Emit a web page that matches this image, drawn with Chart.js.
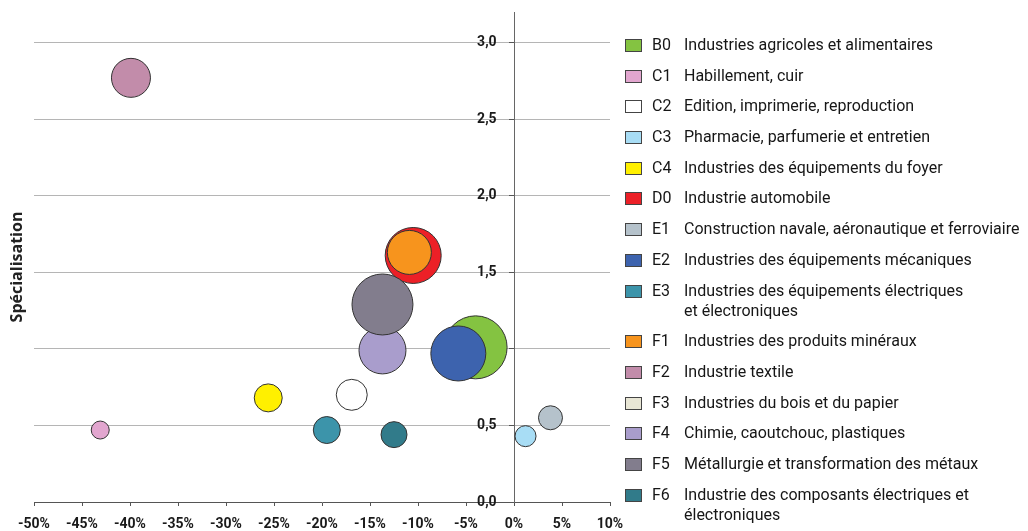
<!DOCTYPE html>
<html lang="fr">
<head>
<meta charset="utf-8">
<title>Spécialisation et évolution par secteur</title>
<script src="https://cdn.jsdelivr.net/npm/chart.js@4.4.1/dist/chart.umd.min.js"></script>
<style>
  body { margin: 0; background: #fff; }
  #wrap { position: relative; width: 1028px; height: 531px; }
  #legend { position: absolute; left: 625px; top: 35px; font: 16px Roboto, sans-serif; color: #161616; }
  .item { display: flex; align-items: flex-start; line-height: 20px; margin-bottom: 10.7px; }
  .swatch { flex: none; width: 17px; height: 13px; box-sizing: border-box; border: 1px solid #444; margin: 4px 10px 0 0; }
  .code { flex: none; width: 32px; }
  .label { white-space: pre-line; }
</style>
</head>
<body>
<div id="wrap">
  <canvas id="chart"></canvas>
  <div id="legend"></div>
</div>
<script>
// secteurs : code, libellé, couleur
const codes = ["B0", "C1", "C2", "C3", "C4", "D0", "E1", "E2", "E3", "F1", "F2", "F3", "F4", "F5", "F6"];
const labels = [
  "Industries agricoles et alimentaires",
  "Habillement, cuir",
  "Edition, imprimerie, reproduction",
  "Pharmacie, parfumerie et entretien",
  "Industries des équipements du foyer",
  "Industrie automobile",
  "Construction navale, aéronautique et ferroviaire",
  "Industries des équipements mécaniques",
  "Industries des équipements électriques\net électroniques",
  "Industries des produits minéraux",
  "Industrie textile",
  "Industries du bois et du papier",
  "Chimie, caoutchouc, plastiques",
  "Métallurgie et transformation des métaux",
  "Industrie des composants électriques et\nélectroniques"
];
const colors = ["#84c341", "#e2a6cf", "#ffffff", "#a8ddf5", "#fff000", "#ec2027", "#b5c2cb",
  "#3d63ae", "#3c94aa", "#f7941d", "#c28caa", "#e8e6d5", "#a99dcc", "#827d8d", "#317b8a"];

// évolution (%), spécialisation, taille de bulle (F3 non représenté)
const evolution = [-4.0, -43.1, -16.9, 1.2, -25.6, -10.5, 3.8, -5.8, -19.5, -10.9, -39.9, null, -13.7, -13.7, -12.5];
const specialisation = [1.01, 0.47, 0.70, 0.43, 0.68, 1.61, 0.55, 0.97, 0.47, 1.63, 2.77, null, 0.99, 1.29, 0.44];
const taille = [31.5, 9, 15.5, 10.5, 14, 28, 12, 27.5, 13.5, 22, 19.5, null, 23.5, 30.5, 13];

const xTicks = [-50, -45, -40, -35, -30, -25, -20, -15, -10, -5, 0, 5, 10];
const yTicks = [0, 0.5, 1, 1.5, 2, 2.5, 3];

Chart.defaults.font.family = "Roboto";
Chart.defaults.color = "#1a1a1a";

// légende HTML
const legend = document.getElementById("legend");
codes.forEach((code, i) => {
  const item = document.createElement("div");
  item.className = "item";
  item.innerHTML = '<span class="swatch" style="background:' + colors[i] + '"></span>' +
    '<span class="code">' + code + '</span><span class="label"></span>';
  item.querySelector(".label").textContent = labels[i];
  legend.appendChild(item);
});

// titre de l'axe vertical
const axisTitle = {
  id: "axisTitle",
  afterDraw(chart) {
    const ctx = chart.ctx;
    ctx.save();
    ctx.translate(17, 267);
    ctx.rotate(-Math.PI / 2);
    ctx.font = "bold 16px 'Open Sans'";
    ctx.fillStyle = "#222";
    ctx.textAlign = "center";
    ctx.textBaseline = "middle";
    ctx.fillText("Spécialisation", 0, 0);
    ctx.restore();
  }
};

// le premier jeu est dessiné au-dessus : on inverse avec "order"
const datasets = codes.map((code, i) => ({
  label: code + " " + labels[i],
  data: evolution[i] === null ? [] : [{ x: evolution[i], y: specialisation[i], r: taille[i] }],
  backgroundColor: colors[i],
  borderColor: "#333",
  borderWidth: 1,
  order: codes.length - i
}));

const ctx = document.getElementById("chart").getContext("2d");
new Chart(ctx, {
  type: "bubble",
  data: { datasets: datasets },
  options: {
    responsive: true,
    maintainAspectRatio: false,
    animation: false,
    events: [],
    layout: { autoPadding: false, padding: { left: 34, right: 418, top: 12, bottom: 0 } },
    plugins: { legend: { display: false }, tooltip: { enabled: false } },
    scales: {
      x: {
        type: "linear",
        min: -50,
        max: 10,
        position: "bottom",
        afterBuildTicks: (s) => { s.ticks = xTicks.map((v) => ({ value: v })); },
        afterFit: (s) => { s.height = 29; },
        grid: { drawOnChartArea: false, tickLength: 4, tickColor: "#555" },
        border: { color: "#555", width: 1 },
        ticks: {
          padding: 10,
          maxRotation: 0,
          font: { size: 14, weight: "bold" },
          callback: (v) => v + "%"
        }
      },
      y: {
        type: "linear",
        min: 0,
        max: 3.2,
        position: { x: 0 },
        afterBuildTicks: (s) => { s.ticks = yTicks.map((v) => ({ value: v })); },
        grid: {
          color: (c) => (c.tick && c.tick.value === 0 ? "rgba(0,0,0,0)" : "#b5b5b5"),
          tickLength: 5,
          tickColor: "#555"
        },
        border: { color: "#666", width: 1 },
        ticks: {
          font: { size: 14, weight: "bold" },
          callback: (v) => v.toFixed(1).replace(".", ",") + "     "
        }
      }
    }
  },
  plugins: [axisTitle]
});
</script>
</body>
</html>
